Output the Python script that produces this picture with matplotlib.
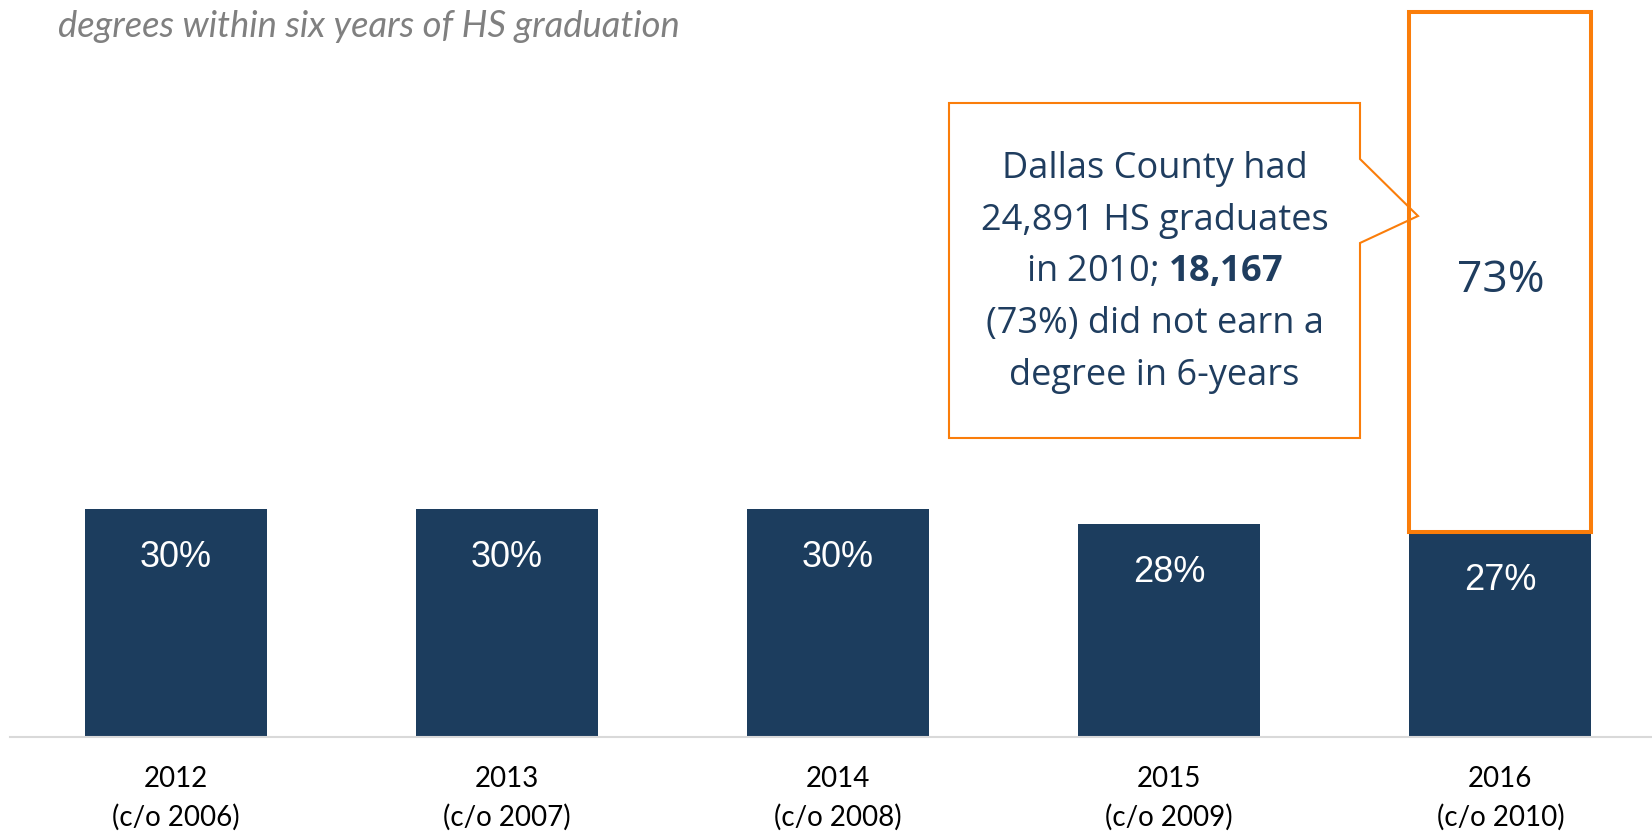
import matplotlib.pyplot as plt
from matplotlib.patches import Polygon

plt.rcParams['mathtext.fontset'] = 'custom'
plt.rcParams['mathtext.rm'] = 'Open Sans'
plt.rcParams['mathtext.bf'] = 'Open Sans:bold'

# data
years = ['2012', '2013', '2014', '2015', '2016']
cohorts = ['c/o 2006', 'c/o 2007', 'c/o 2008', 'c/o 2009', 'c/o 2010']
earned_pct = [30, 30, 30, 28, 27]
not_earned_pct = 73  # last cohort (c/o 2010)

subtitle = 'degrees within six years of HS graduation'
callout_lines = ['Dallas County had',
                 '24,891 HS graduates',
                 r'in 2010; $\mathbf{18{,}167}$',
                 '(73%) did not earn a',
                 'degree in 6-years']

navy = '#1C3D5E'
text_navy = '#1F3D5F'
orange = '#FA7D0A'

W, H = 1652, 831
fig = plt.figure(figsize=(W / 100, H / 100), dpi=100)
ax = fig.add_axes([10 / W, (H - 737) / H, 1 - 10 / W, (737 - 12.5) / H])

x = list(range(len(years)))
ymax = 95.3
bw = 0.55

ax.bar(x, earned_pct, width=bw, color=navy, zorder=2)

# orange outline on top of the last bar = share without a degree
ax.bar(x[-1], ymax - earned_pct[-1], bottom=earned_pct[-1], width=bw,
       fill=False, edgecolor=orange, linewidth=2.9, clip_on=False, zorder=3)

for xi, v in zip(x, earned_pct):
    ax.annotate(f'{v}%', (xi, v), xytext=(0, -42), textcoords='offset points',
                ha='center', va='baseline', color='white', fontsize=26,
                family='Liberation Sans')

ax.annotate(f'{not_earned_pct}%', (x[-1], (earned_pct[-1] + ymax) / 2),
            xytext=(0, -14.5), textcoords='offset points', ha='center',
            va='baseline', color=text_navy, fontsize=32, family='Open Sans')

ax.set_xlim(-0.501, 4.458)
ax.set_ylim(0, ymax)
ax.set_xticks(x, [f'{y}\n({c})' for y, c in zip(years, cohorts)],
              fontsize=20, family='Lato', linespacing=1.55)
ax.tick_params(axis='x', length=0, pad=21)
ax.set_yticks([])
for side in ['top', 'left', 'right']:
    ax.spines[side].set_visible(False)
ax.spines['bottom'].set_color('#D9D9D9')
ax.spines['bottom'].set_linewidth(1.5)

# callout box in pixel coordinates
ov = fig.add_axes([0, 0, 1, 1], zorder=5)
ov.set_xlim(0, W)
ov.set_ylim(H, 0)
ov.axis('off')
left, right, top, bottom = 949, 1360, 103, 438
shape = [(left, top), (right, top), (right, 159), (1418, 216), (right, 243),
         (right, bottom), (left, bottom)]
ov.add_patch(Polygon(shape, closed=True, fill=False, edgecolor=orange,
                     linewidth=1.5))
for i, line in enumerate(callout_lines):
    ov.text((left + right) / 2, 178 + i * 51.75, line, ha='center',
            va='baseline', fontsize=26, family='Open Sans', color=text_navy)

fig.text(58 / W, 1 - 37 / H, subtitle, fontsize=26.2, style='italic',
         family='Lato', color='#808080', va='baseline')

fig.savefig('out.png', dpi=100)
